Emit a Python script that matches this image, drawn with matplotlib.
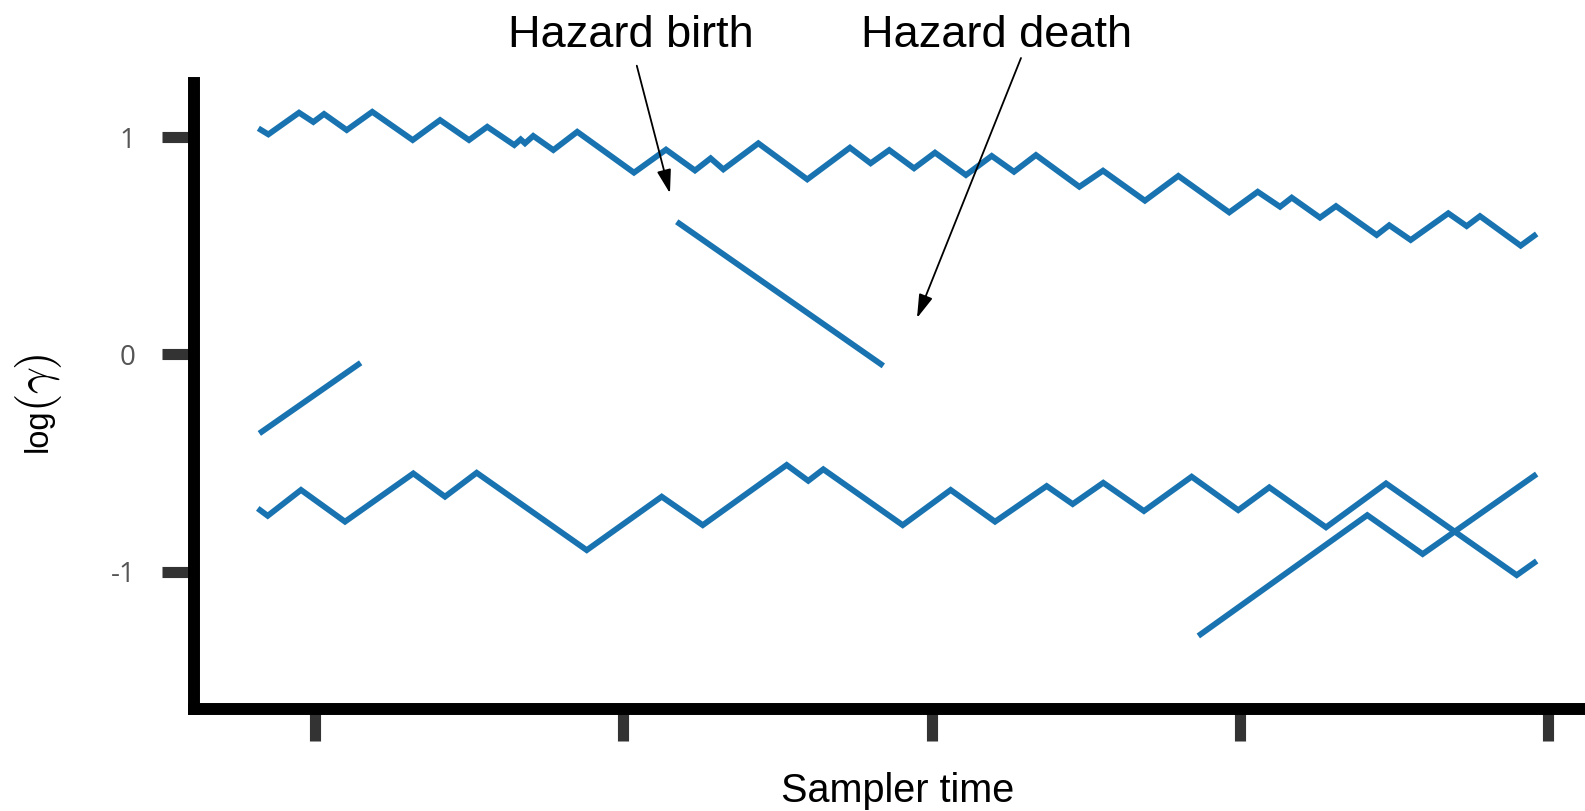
import matplotlib
matplotlib.use("Agg")
import matplotlib.pyplot as plt
from matplotlib import font_manager

# Trajectories of log(gamma) over sampler time (piecewise-deterministic sampler)
upper_t = [-4.62, -3.81, -1.32, -0.16, 0.71, 2.55, 4.62, 7.90, 10.12, 12.47,
           13.95, 16.14, 16.66, 17.01, 17.68, 19.31, 21.25, 25.85, 28.45, 30.80,
           32.07, 33.10, 35.94, 39.91, 43.37, 45.05, 46.56, 48.57, 50.27, 52.78,
           54.87, 56.68, 58.46, 61.98, 63.90, 67.30, 70.01, 74.14, 76.45, 78.26,
           79.21, 81.50, 82.80, 86.10, 87.12, 88.86, 91.91, 93.40, 94.48, 97.78,
           99.08]
upper_v = [1.040, 1.012, 1.112, 1.069, 1.106, 1.032, 1.116, 0.986, 1.078, 0.986,
           1.047, 0.963, 0.989, 0.971, 1.005, 0.940, 1.024, 0.836, 0.942, 0.846,
           0.902, 0.851, 0.971, 0.805, 0.951, 0.879, 0.940, 0.856, 0.928, 0.825,
           0.913, 0.840, 0.917, 0.771, 0.845, 0.707, 0.821, 0.653, 0.748, 0.679,
           0.721, 0.629, 0.682, 0.549, 0.594, 0.526, 0.649, 0.590, 0.636, 0.500,
           0.554]

lower_t = [-4.67, -3.86, -1.16, 2.41, 7.95, 10.52, 13.09, 22.02, 28.10, 31.43,
           38.24, 39.99, 41.21, 47.65, 51.54, 55.14, 59.33, 61.44, 63.92, 67.22,
           71.09, 74.87, 77.39, 81.99, 86.86, 97.46, 99.08]
lower_v = [-0.709, -0.743, -0.624, -0.770, -0.548, -0.655, -0.545, -0.901, -0.655, -0.786,
           -0.509, -0.582, -0.529, -0.786, -0.624, -0.770, -0.606, -0.689, -0.591, -0.721,
           -0.563, -0.717, -0.612, -0.796, -0.594, -1.016, -0.951]

# Component that dies early
early_t = [-4.54, 3.68]
early_v = [-0.364, -0.039]

# Component born mid-run, then killed
middle_t = [29.32, 46.08]
middle_v = [0.610, -0.053]

# Component born late
late_t = [71.63, 85.34, 89.83, 99.08]
late_v = [-1.296, -0.740, -0.919, -0.551]

xticks = [0, 25, 50, 75, 100]
yticks = [-1, 0, 1]
ytick_labels = ["-1", "0", "1"]

birth_label = "Hazard birth"
death_label = "Hazard death"
birth_point = (28.77, 0.741)
death_point = (48.81, 0.167)

LINE_COLOR = "#1873b0"
W, H = 1585, 811

plt.rcParams["mathtext.fontset"] = "cm"

fig = plt.figure(figsize=(W / 100, H / 100), dpi=100)
ax = fig.add_axes([194 / W, (H - 709) / H, (W - 194) / W, (709 - 83) / H])

for t, v in [(upper_t, upper_v), (lower_t, lower_v), (early_t, early_v),
             (middle_t, middle_v), (late_t, late_v)]:
    ax.plot(t, v, color=LINE_COLOR, lw=4.2, solid_joinstyle="miter",
            solid_capstyle="butt")

ax.set_xlim(-9.84, 103.0)
ax.set_ylim(-1.632, 1.2485)

for side in ("top", "right"):
    ax.spines[side].set_visible(False)
for side in ("left", "bottom"):
    ax.spines[side].set_linewidth(8.6)
    ax.spines[side].set_color("black")

ax.set_xticks(xticks)
ax.set_xticklabels([])
ax.set_yticks(yticks)
ax.set_yticklabels(ytick_labels, family=["Open Sans", "DejaVu Sans"],
                   fontsize=20, color="#555555")
ax.tick_params(axis="both", direction="out", length=23, width=8,
               color="#333333")
ax.tick_params(axis="y", pad=19)

ax.set_xlabel("Sampler time", family=["Liberation Sans", "DejaVu Sans"],
              fontsize=28.5, va="baseline")
ax.xaxis.set_label_coords((898 - 194) / (W - 194), (709 - 801.7) / (709 - 83))

# y label: "log" in sans, followed by a large serif "(γ)"
ax.set_ylabel("log", family=["Liberation Sans", "DejaVu Sans"],
              fontsize=23.5, va="center", ha="center")
ax.yaxis.set_label_coords((38 - 194) / (W - 194), (709 - 430) / (709 - 83))
ax.text((38 - 194) / (W - 194), (709 - 383) / (709 - 83), r"$(\gamma)$",
        transform=ax.transAxes, rotation=90, fontsize=34,
        ha="center", va="center")

names = {f.name for f in font_manager.fontManager.ttflist}
if "Liberation Sans Narrow" in names:
    ann_family, ann_size = ["Liberation Sans Narrow"], 39
else:
    ann_family, ann_size = ["Liberation Sans", "DejaVu Sans"], 32.5

fig.text(631 / W, (H - 47) / H, birth_label, family=ann_family,
         fontsize=ann_size, ha="center", va="baseline")
fig.text(997 / W, (H - 47) / H, death_label, family=ann_family,
         fontsize=ann_size, ha="center", va="baseline")

arrow = dict(arrowstyle="-|>,head_length=0.6,head_width=0.18", color="black",
             lw=1.3, mutation_scale=24, shrinkA=0, shrinkB=0)
ax.annotate("", xy=birth_point, xycoords="data",
            xytext=(636.8, H - 65.7), textcoords="figure pixels",
            arrowprops=arrow, annotation_clip=False)
ax.annotate("", xy=death_point, xycoords="data",
            xytext=(1021, H - 58), textcoords="figure pixels",
            arrowprops=arrow, annotation_clip=False)

fig.savefig("out.png", dpi=100, facecolor="white")
